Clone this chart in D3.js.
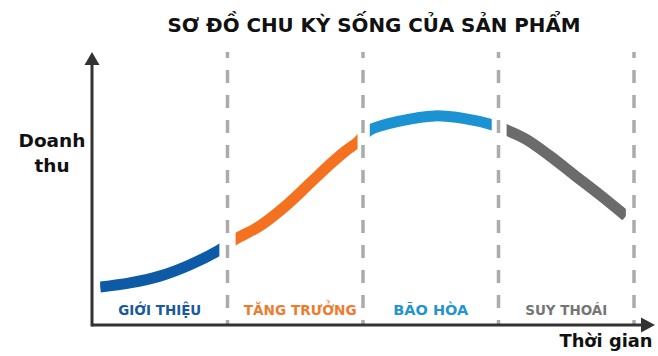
<!DOCTYPE html>
<html>
<head>
<meta charset="utf-8">
<script src="https://cdn.jsdelivr.net/npm/d3@7"></script>
<style>
  body { margin: 0; background: #fff; }
  text { font-family: "DejaVu Sans", "Liberation Sans", Arial, sans-serif; font-weight: bold; }
</style>
</head>
<body>
<svg width="658" height="356"></svg>
<script>
// Phases of the product life cycle
var phases = ["GIỚI THIỆU", "TĂNG TRƯỞNG", "BÃO HÒA", "SUY THOÁI"];
var phaseColors = ["#0d5aa7", "#f4711f", "#1b93d3", "#6b6b6b"];
var labelColors = ["#175a9f", "#f07b2e", "#2493d0", "#767676"];
var labelWidths = [83, 113, 75, 82];

// Revenue curve, one list per phase (time in phase units, revenue 0-100)
var introT = [0.06, 0.28, 0.50, 0.72, 0.94];
var introV = [13.9, 15.4, 17.9, 22.0, 27.5];
var growthT = [1.06, 1.24, 1.42, 1.61, 1.76, 1.87, 1.96];
var growthV = [31.5, 36.3, 43.2, 52.0, 59.0, 63.7, 67.0];
var matureT = [2.05, 2.27, 2.53, 2.75, 2.95];
var matureV = [71.4, 74.7, 76.6, 75.6, 73.4];
var declineT = [3.06, 3.20, 3.38, 3.56, 3.75, 3.94];
var declineV = [71.4, 68.1, 61.9, 54.9, 47.6, 39.9];

var dividers = [1, 2, 3, 4];

var svg = d3.select("svg");

var x = d3.scaleLinear().domain([0, 4]).range([92, 634]);
var y = d3.scaleLinear().domain([0, 100]).range([325, 52]);

var segT = [introT, growthT, matureT, declineT];
var segV = [introV, growthV, matureV, declineV];

// whole curve, then clipped per phase
var allPts = [];
segT.forEach(function(ts, i) {
  ts.forEach(function(t, j) { allPts.push([t, segV[i][j]]); });
});

var line = d3.line()
    .x(function(d) { return x(d[0]); })
    .y(function(d) { return y(d[1]); })
    .curve(d3.curveCatmullRom.alpha(0.5));

// title
svg.append("text")
    .attr("x", 374)
    .attr("y", 32)
    .attr("text-anchor", "middle")
    .attr("font-size", 20)
    .attr("textLength", 413)
    .attr("lengthAdjust", "spacingAndGlyphs")
    .attr("fill", "#111")
    .text("SƠ ĐỒ CHU KỲ SỐNG CỦA SẢN PHẨM");

// dashed phase dividers
svg.append("g").selectAll("line")
    .data(dividers)
    .enter().append("line")
    .attr("x1", function(d) { return x(d); })
    .attr("x2", function(d) { return x(d); })
    .attr("y1", y(100))
    .attr("y2", y(0))
    .attr("stroke", "#ababab")
    .attr("stroke-width", 3.5)
    .attr("stroke-dasharray", "13,12")
    .attr("stroke-dashoffset", 7);

var defs = svg.append("defs");

segT.forEach(function(ts, i) {
  defs.append("clipPath")
      .attr("id", "clip" + i)
    .append("rect")
      .attr("x", x(ts[0]))
      .attr("y", 0)
      .attr("width", x(ts[ts.length - 1]) - x(ts[0]))
      .attr("height", 356);

  svg.append("path")
      .datum(allPts)
      .attr("d", line)
      .attr("fill", "none")
      .attr("stroke", phaseColors[i])
      .attr("stroke-width", 11)
      .attr("clip-path", "url(#clip" + i + ")");
});

// phase labels
svg.append("g").selectAll("text")
    .data(phases)
    .enter().append("text")
    .attr("x", function(d, i) { return x(i + 0.5) + (i == 1 ? 5 : 0); })
    .attr("y", 315)
    .attr("text-anchor", "middle")
    .attr("font-size", 14)
    .attr("textLength", function(d, i) { return labelWidths[i]; })
    .attr("lengthAdjust", "spacingAndGlyphs")
    .attr("fill", function(d, i) { return labelColors[i]; })
    .text(function(d) { return d; });

// axes
var axisColor = "#333";
svg.append("line")
    .attr("x1", x(0)).attr("x2", x(0))
    .attr("y1", y(0) + 1.5).attr("y2", 62)
    .attr("stroke", axisColor).attr("stroke-width", 3);
svg.append("path")
    .attr("d", "M" + (x(0) - 7.5) + ",65L" + x(0) + ",52L" + (x(0) + 7.5) + ",65Z")
    .attr("fill", axisColor);

svg.append("line")
    .attr("x1", x(0)).attr("x2", 644)
    .attr("y1", y(0)).attr("y2", y(0))
    .attr("stroke", axisColor).attr("stroke-width", 3);
svg.append("path")
    .attr("d", "M641," + (y(0) - 7.5) + "L655," + y(0) + "L641," + (y(0) + 7.5) + "Z")
    .attr("fill", axisColor);

// axis titles
function axisTitle(tx, ty, w, s) {
  svg.append("text")
      .attr("x", tx).attr("y", ty)
      .attr("text-anchor", "middle")
      .attr("font-size", 17)
      .attr("textLength", w)
      .attr("lengthAdjust", "spacingAndGlyphs")
      .attr("fill", "#111")
      .text(s);
}
axisTitle(52, 147, 67, "Doanh");
axisTitle(52, 172, 35, "thu");
axisTitle(606, 347, 93, "Thời gian");
</script>
</body>
</html>
